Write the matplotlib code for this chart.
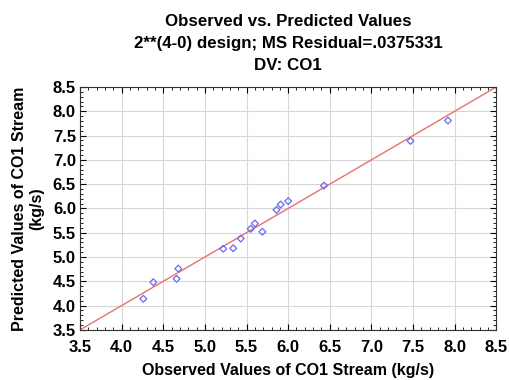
import numpy as np
import matplotlib
matplotlib.use("Agg")
import matplotlib.pyplot as plt
from matplotlib.ticker import MultipleLocator

plt.rcParams['font.family'] = ['Liberation Sans', 'DejaVu Sans']
plt.rcParams['font.weight'] = 'bold'

# observed vs predicted CO1 stream values (kg/s)
observed = [4.26, 4.38, 4.66, 4.68, 5.22, 5.34, 5.43, 5.55, 5.60, 5.69,
            5.86, 5.91, 6.00, 6.43, 7.47, 7.92]
predicted = [4.14, 4.48, 4.55, 4.76, 5.17, 5.18, 5.38, 5.58, 5.69, 5.52,
             5.97, 6.08, 6.15, 6.47, 7.39, 7.81]
ref_line = [3.5, 8.5]

fig = plt.figure(figsize=(5.1, 3.8), dpi=100)
ax = fig.add_axes([0.157, 0.132, 0.816, 0.639])

ax.plot(ref_line, ref_line, color='#e8706f', lw=1.0, zorder=2)
ax.scatter(observed, predicted, marker='D', s=12, facecolors='none',
           edgecolors='#6a6af0', linewidths=0.9, zorder=3)

ax.set_xlim(3.5, 8.5)
ax.set_ylim(3.5, 8.5)
ax.xaxis.set_major_locator(MultipleLocator(0.5))
ax.yaxis.set_major_locator(MultipleLocator(0.5))
ax.xaxis.set_minor_locator(MultipleLocator(0.1))
ax.yaxis.set_minor_locator(MultipleLocator(0.1))
ax.xaxis.set_major_formatter('{x:.1f}')
ax.yaxis.set_major_formatter('{x:.1f}')
ax.tick_params(which='both', direction='in', top=True, right=True,
               labelsize=12)
ax.tick_params(axis='x', pad=7)
ax.tick_params(axis='y', pad=3)
ax.tick_params(which='major', length=4)
ax.tick_params(which='minor', length=2)
ax.grid(True, which='major', color='#d8d8d8', lw=0.8)
for s in ax.spines.values():
    s.set_color('#333333')

ax.set_xlabel('Observed Values of CO1 Stream (kg/s)', fontsize=11.5,
              fontweight='bold', labelpad=6)
ax.set_ylabel('Predicted Values of CO1 Stream\n(kg/s)', fontsize=11.5,
              fontweight='bold', labelpad=6)
ax.set_title('Observed vs. Predicted Values\n2**(4-0) design; MS Residual=.0375331\nDV: CO1',
             fontsize=12.2, fontweight='bold', linespacing=1.6, pad=12)

fig.savefig('out.png', dpi=100)
